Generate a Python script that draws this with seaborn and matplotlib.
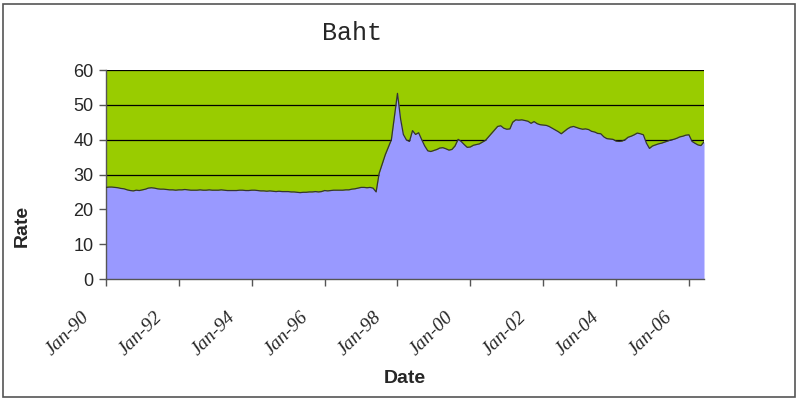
import numpy as np
import pandas as pd
import matplotlib
matplotlib.use("Agg")
import matplotlib.pyplot as plt
import matplotlib.dates as mdates
import matplotlib.transforms as mtransforms
from matplotlib.patches import Rectangle
import seaborn as sns

# Monthly baht rate, Jan 1990 - Jun 2006
rate_1990 = [26.3, 26.4, 26.4, 26.3, 26.2, 26.0, 25.9, 25.6, 25.4, 25.3, 25.5, 25.4]
rate_1991 = [25.6, 25.8, 26.1, 26.2, 26.1, 25.9, 25.8, 25.8, 25.7, 25.6, 25.6, 25.5]
rate_1992 = [25.6, 25.6, 25.7, 25.6, 25.5, 25.5, 25.5, 25.6, 25.5, 25.5, 25.6, 25.5]
rate_1993 = [25.5, 25.5, 25.6, 25.5, 25.4, 25.4, 25.4, 25.4, 25.5, 25.5, 25.4, 25.4]
rate_1994 = [25.5, 25.5, 25.4, 25.3, 25.3, 25.2, 25.3, 25.2, 25.1, 25.2, 25.1, 25.1]
rate_1995 = [25.1, 25.0, 25.0, 24.9, 24.8, 24.9, 24.9, 25.0, 25.0, 25.1, 25.0, 25.1]
rate_1996 = [25.4, 25.3, 25.4, 25.5, 25.5, 25.5, 25.5, 25.6, 25.6, 25.8, 25.9, 26.1]
rate_1997 = [26.3, 26.3, 26.2, 26.3, 26.1, 25.0, 30.3, 33.0, 35.7, 37.8, 40.0, 46.5]
rate_1998 = [53.3, 46.0, 41.5, 39.9, 39.5, 42.6, 41.5, 42.0, 40.0, 38.2, 36.8, 36.6]
rate_1999 = [36.9, 37.2, 37.6, 37.7, 37.4, 37.0, 37.2, 38.2, 40.1, 39.5, 38.6, 37.8]
rate_2000 = [37.9, 38.4, 38.6, 38.8, 39.3, 39.8, 40.8, 41.8, 42.8, 43.8, 44.0, 43.3]
rate_2001 = [43.0, 43.1, 45.0, 45.7, 45.6, 45.7, 45.5, 45.3, 44.7, 45.2, 44.6, 44.3]
rate_2002 = [44.2, 44.1, 43.8, 43.3, 42.8, 42.3, 41.7, 42.4, 43.1, 43.6, 43.8, 43.5]
rate_2003 = [43.2, 43.0, 43.1, 42.9, 42.4, 42.2, 41.8, 41.7, 40.8, 40.3, 40.2, 40.1]
rate_2004 = [39.6, 39.5, 39.6, 40.0, 40.7, 41.0, 41.4, 41.9, 41.7, 41.4, 39.0, 37.5]
rate_2005 = [38.2, 38.5, 38.8, 39.0, 39.3, 39.6, 39.9, 40.1, 40.4, 40.8, 41.0, 41.3]
rate_2006 = [41.4, 39.5, 39.0, 38.5, 38.3, 39.4]

rates = (rate_1990 + rate_1991 + rate_1992 + rate_1993 + rate_1994 + rate_1995
         + rate_1996 + rate_1997 + rate_1998 + rate_1999 + rate_2000 + rate_2001
         + rate_2002 + rate_2003 + rate_2004 + rate_2005 + rate_2006)
dates = pd.date_range("1990-01-01", periods=len(rates), freq="MS")
df = pd.DataFrame({"Date": dates, "Rate": rates})

y_ticks = [0, 10, 20, 30, 40, 50, 60]

sns.set_style("white")
plt.rcParams["font.family"] = ["Liberation Sans", "DejaVu Sans"]

fig = plt.figure(figsize=(8, 4.01), dpi=100)
ax = fig.add_axes([0.1325, 0.3042, 0.7475, 0.5212])
ax.set_facecolor("#99CC00")

# gridlines behind the area
for v in y_ticks[1:]:
    ax.axhline(v, color="black", lw=0.9, zorder=1)

ax.fill_between(df["Date"], df["Rate"], 0, color="#9999FF", lw=0, zorder=2)
sns.lineplot(data=df, x="Date", y="Rate", color="#333333", lw=0.9, ax=ax, zorder=3)

ax.set_xlim(dates[0], dates[-1])
ax.set_ylim(0, 60)
ax.set_yticks(y_ticks)

ax.xaxis.set_major_locator(mdates.YearLocator(2, month=1, day=1))
ax.xaxis.set_major_formatter(mdates.DateFormatter("%b-%y"))

for s in ["top", "right"]:
    ax.spines[s].set_visible(False)
for s in ["left", "bottom"]:
    ax.spines[s].set_color("#555555")
    ax.spines[s].set_linewidth(1)

ax.tick_params(axis="y", direction="out", length=5, width=1, color="#555555",
               labelsize=13, pad=4, left=True)
ax.tick_params(axis="x", direction="out", length=5, width=1, color="#555555",
               pad=10, bottom=True)

offset = mtransforms.ScaledTranslation(-13 / 100, -9 / 100, fig.dpi_scale_trans)
for lbl in ax.get_xticklabels():
    lbl.set_rotation(45)
    lbl.set_ha("right")
    lbl.set_fontfamily("Liberation Serif")
    lbl.set_fontstyle("italic")
    lbl.set_fontsize(14)
    lbl.set_transform(lbl.get_transform() + offset)

ax.set_xlabel("")
ax.set_ylabel("")
fig.text(0.506, 0.057, "Date", ha="center", va="center", fontsize=14, fontweight="bold")
fig.text(0.028, 0.437, "Rate", ha="center", va="center", rotation=90,
         fontsize=14, fontweight="bold")
fig.text(0.44, 0.918, "Baht", ha="center", va="center", fontsize=18,
         fontfamily="Liberation Mono")

# chart border
fig.patches.append(Rectangle((3 / 800, 4 / 401), 792 / 800, 393 / 401,
                             transform=fig.transFigure, fill=False,
                             edgecolor="#555555", lw=1.2))

fig.savefig("out.png", dpi=100)
